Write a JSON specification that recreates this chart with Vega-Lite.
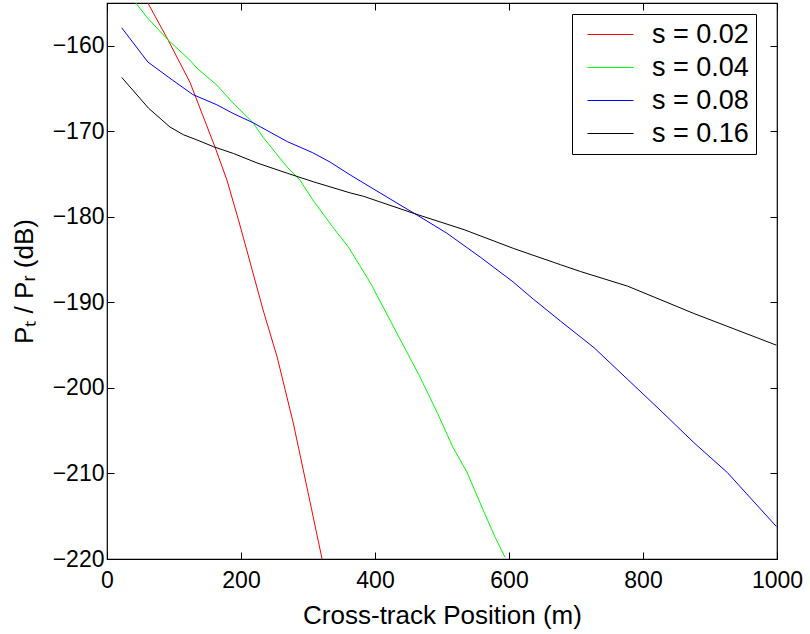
{
  "$schema": "https://vega.github.io/schema/vega-lite/v6.json",
  "width": 670,
  "height": 556,
  "autosize": "none",
  "padding": {"left": 107, "top": 3, "right": 33, "bottom": 75},
  "background": "white",
  "config": {
    "font": "Liberation Sans",
    "view": {"stroke": "black", "strokeWidth": 1.2},
    "axis": {
      "grid": false,
      "domain": false,
      "tickSize": -7,
      "tickColor": "black",
      "tickWidth": 1,
      "labelFlush": false,
      "labelOverlap": false,
      "labelFont": "Liberation Sans",
      "labelFontSize": 23,
      "labelColor": "black",
      "titleFont": "Liberation Sans",
      "titleFontSize": 26,
      "titleFontWeight": "normal",
      "titleColor": "black"
    }
  },
  "data": {
    "values": [
      {"s": "s = 0.02", "x": 61, "y": -155},
      {"s": "s = 0.02", "x": 91, "y": -159.3},
      {"s": "s = 0.02", "x": 124, "y": -164.3},
      {"s": "s = 0.02", "x": 161, "y": -171.8},
      {"s": "s = 0.02", "x": 179, "y": -175.7},
      {"s": "s = 0.02", "x": 196, "y": -180.3},
      {"s": "s = 0.02", "x": 209, "y": -184.0},
      {"s": "s = 0.02", "x": 233, "y": -190.9},
      {"s": "s = 0.02", "x": 254, "y": -196.4},
      {"s": "s = 0.02", "x": 278, "y": -204.1},
      {"s": "s = 0.02", "x": 300, "y": -212.2},
      {"s": "s = 0.02", "x": 321, "y": -220},
      {"s": "s = 0.04", "x": 43, "y": -155},
      {"s": "s = 0.04", "x": 61, "y": -156.8},
      {"s": "s = 0.04", "x": 91, "y": -159.3},
      {"s": "s = 0.04", "x": 124, "y": -161.7},
      {"s": "s = 0.04", "x": 134, "y": -162.6},
      {"s": "s = 0.04", "x": 164, "y": -164.6},
      {"s": "s = 0.04", "x": 187, "y": -166.6},
      {"s": "s = 0.04", "x": 218, "y": -169.0},
      {"s": "s = 0.04", "x": 233, "y": -170.7},
      {"s": "s = 0.04", "x": 269, "y": -174.2},
      {"s": "s = 0.04", "x": 288, "y": -175.7},
      {"s": "s = 0.04", "x": 307, "y": -178.0},
      {"s": "s = 0.04", "x": 337, "y": -181.2},
      {"s": "s = 0.04", "x": 360, "y": -183.5},
      {"s": "s = 0.04", "x": 393, "y": -187.7},
      {"s": "s = 0.04", "x": 430, "y": -193.2},
      {"s": "s = 0.04", "x": 467, "y": -198.7},
      {"s": "s = 0.04", "x": 493, "y": -202.9},
      {"s": "s = 0.04", "x": 516, "y": -206.9},
      {"s": "s = 0.04", "x": 537, "y": -209.8},
      {"s": "s = 0.04", "x": 561, "y": -214.2},
      {"s": "s = 0.04", "x": 579, "y": -217.4},
      {"s": "s = 0.04", "x": 594, "y": -219.8},
      {"s": "s = 0.08", "x": 22, "y": -157.9},
      {"s": "s = 0.08", "x": 61, "y": -161.9},
      {"s": "s = 0.08", "x": 94, "y": -163.8},
      {"s": "s = 0.08", "x": 128, "y": -165.7},
      {"s": "s = 0.08", "x": 164, "y": -166.9},
      {"s": "s = 0.08", "x": 188, "y": -167.9},
      {"s": "s = 0.08", "x": 218, "y": -169.0},
      {"s": "s = 0.08", "x": 269, "y": -171.2},
      {"s": "s = 0.08", "x": 307, "y": -172.5},
      {"s": "s = 0.08", "x": 333, "y": -173.6},
      {"s": "s = 0.08", "x": 363, "y": -175.1},
      {"s": "s = 0.08", "x": 382, "y": -176.0},
      {"s": "s = 0.08", "x": 433, "y": -178.4},
      {"s": "s = 0.08", "x": 463, "y": -179.8},
      {"s": "s = 0.08", "x": 507, "y": -181.9},
      {"s": "s = 0.08", "x": 557, "y": -184.7},
      {"s": "s = 0.08", "x": 606, "y": -187.6},
      {"s": "s = 0.08", "x": 636, "y": -189.6},
      {"s": "s = 0.08", "x": 677, "y": -192.2},
      {"s": "s = 0.08", "x": 727, "y": -195.3},
      {"s": "s = 0.08", "x": 777, "y": -199.0},
      {"s": "s = 0.08", "x": 827, "y": -202.7},
      {"s": "s = 0.08", "x": 876, "y": -206.4},
      {"s": "s = 0.08", "x": 926, "y": -209.9},
      {"s": "s = 0.08", "x": 999, "y": -216.2},
      {"s": "s = 0.16", "x": 22, "y": -163.7},
      {"s": "s = 0.16", "x": 62, "y": -167.3},
      {"s": "s = 0.16", "x": 94, "y": -169.5},
      {"s": "s = 0.16", "x": 114, "y": -170.4},
      {"s": "s = 0.16", "x": 134, "y": -171.0},
      {"s": "s = 0.16", "x": 159, "y": -171.8},
      {"s": "s = 0.16", "x": 189, "y": -172.6},
      {"s": "s = 0.16", "x": 224, "y": -173.7},
      {"s": "s = 0.16", "x": 269, "y": -174.9},
      {"s": "s = 0.16", "x": 308, "y": -175.9},
      {"s": "s = 0.16", "x": 363, "y": -177.2},
      {"s": "s = 0.16", "x": 383, "y": -177.6},
      {"s": "s = 0.16", "x": 458, "y": -179.6},
      {"s": "s = 0.16", "x": 533, "y": -181.5},
      {"s": "s = 0.16", "x": 607, "y": -183.7},
      {"s": "s = 0.16", "x": 677, "y": -185.6},
      {"s": "s = 0.16", "x": 707, "y": -186.4},
      {"s": "s = 0.16", "x": 777, "y": -188.1},
      {"s": "s = 0.16", "x": 876, "y": -191.3},
      {"s": "s = 0.16", "x": 999, "y": -195.0}
    ]
  },
  "layer": [
    {
      "mark": {"type": "line", "strokeWidth": 1, "clip": true},
      "encoding": {
        "x": {
          "field": "x", "type": "quantitative",
          "scale": {"domain": [0, 1000], "nice": false, "zero": false},
          "axis": {
            "orient": "bottom", "values": [0, 200, 400, 600, 800, 1000], "format": "d",
            "title": "Cross-track Position (m)",
            "labelPadding": 17, "titleY": 64, "titleBaseline": "alphabetic"
          }
        },
        "y": {
          "field": "y", "type": "quantitative",
          "scale": {"domain": [-220, -155], "nice": false, "zero": false},
          "axis": {
            "orient": "left", "values": [-220, -210, -200, -190, -180, -170, -160],
            "title": "Pₜ / Pᵣ (dB)",
            "labelPadding": 10, "titleX": -75, "titleBaseline": "alphabetic"
          }
        },
        "color": {
          "field": "s", "type": "nominal",
          "scale": {
            "domain": ["s = 0.02", "s = 0.04", "s = 0.08", "s = 0.16"],
            "range": ["#ff0000", "#00ff00", "#0000ff", "#000000"]
          },
          "legend": {
            "title": null,
            "orient": "none",
            "legendX": 465,
            "legendY": 11,
            "symbolType": "M-2,0L2,0",
            "symbolSize": 529,
            "symbolStrokeWidth": 1.2,
            "symbolOffset": 18,
            "labelFontSize": 27,
            "labelFont": "Liberation Sans",
            "labelColor": "black",
            "labelOffset": 28,
            "padding": 7,
            "strokeColor": "black",
            "fillColor": "white",
            "rowPadding": 5
          }
        }
      }
    },
    {
      "mark": {"type": "point", "opacity": 0},
      "encoding": {
        "x": {
          "field": "x", "type": "quantitative",
          "axis": {"orient": "top", "values": [0, 200, 400, 600, 800, 1000], "labels": false, "title": null}
        },
        "y": {
          "field": "y", "type": "quantitative",
          "axis": {"orient": "right", "values": [-220, -210, -200, -190, -180, -170, -160], "labels": false, "title": null}
        }
      }
    }
  ],
  "resolve": {"axis": {"x": "independent", "y": "independent"}}
}
